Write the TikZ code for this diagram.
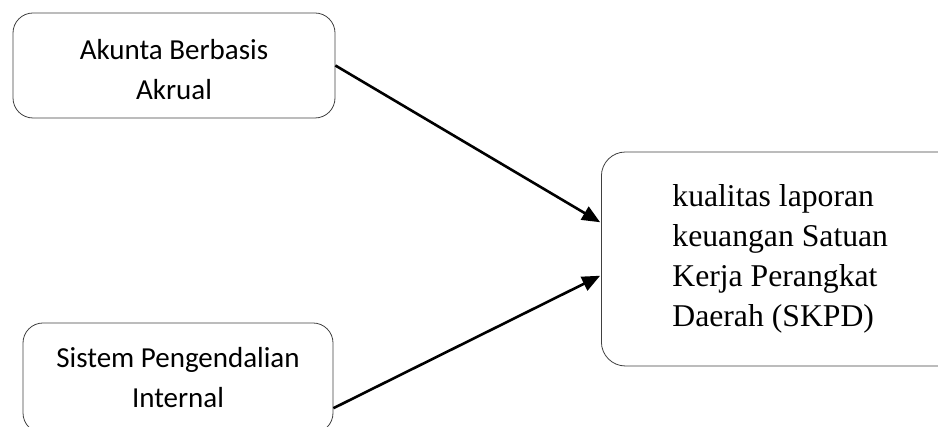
\documentclass[tikz,border=0pt]{standalone}
\usepackage{fontspec}
\setmainfont{Liberation Serif}
\newfontfamily\boxfont{Carlito}
\usetikzlibrary{arrows.meta}
\begin{document}
\begin{tikzpicture}[shorten >=1pt,draw=black!100]
	\def \rowtopht{361.5pt}
	\def \rowmidht{168pt}
	\def \rowbotht{49pt}
	%\def \rowbotedge{0pt}
	\tikzstyle{v-node}=[draw=black!75,line width=0.8pt,rounded corners=20pt,align=center,inner sep=0pt,font=\boxfont\fontsize{29pt}{40pt}\selectfont]
	\tikzstyle{y-node}=[draw=black!75,line width=0.8pt,rounded corners=24pt,text width=230pt,align=flush left,inner xsep=71pt,inner ysep=0pt,minimum height=214pt,font=\fontsize{31.7pt}{40pt}\selectfont]
	\tikzstyle{link}=[line width=2.6pt,-{Triangle[length=18pt,width=15pt]}]
	\useasboundingbox (0pt,0pt) rectangle (938pt,427pt);

	% independent variables
	\node[v-node,minimum width=322pt,minimum height=105pt,text height=68pt,text depth=0pt] 	(akrual)	at (174pt,\rowtopht)	{Akunta Berbasis\\Akrual};
	\node[v-node,minimum width=310pt,minimum height=110pt] 	(spi)	at (178pt,\rowbotht)	{Sistem Pengendalian\\Internal};

	% dependent variable
	\node[y-node,anchor=west] 	(skpd)	at (601pt,\rowmidht)	{kualitas laporan keuangan Satuan Kerja Perangkat Daerah (SKPD)};

	\path[link]
		(akrual.east)	edge	node	{}	(skpd.169)
		%
		(spi.-11)	edge	node	{}	(skpd.185);
\end{tikzpicture}
\end{document}
